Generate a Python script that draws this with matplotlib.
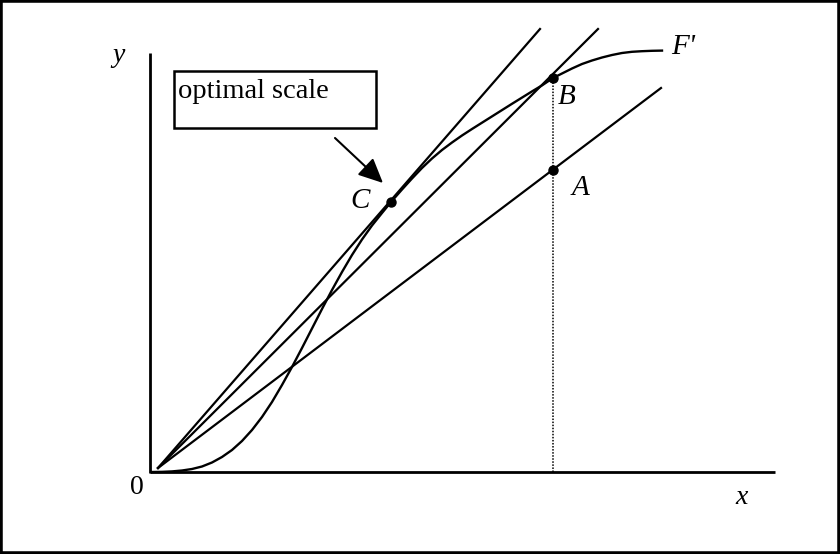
import matplotlib.pyplot as plt
from matplotlib.patches import Rectangle

# Coordinaten in een "pixel-achtige" eenheid: oorsprong = hoek van de assen
curve_x = [0, 10, 20, 30, 40, 50, 60, 70, 80, 90, 100, 110, 120, 130, 140,
           150, 160, 170, 180, 190, 200, 210, 220, 230, 239, 250, 260, 270,
           280, 290, 300, 310, 320, 330, 340, 350, 360, 370, 380, 390, 401,
           410, 420, 430, 440, 450, 460, 470, 480, 490, 500, 510]
curve_y = [0, 0.15, 0.6, 1.5, 3, 5.5, 9.5, 15, 22, 31, 42, 55, 70, 87, 105,
           124, 143.5, 163, 182, 200, 217, 232.5, 246.5, 259, 270, 282.5,
           293.5, 304, 313.5, 322, 329.5, 336.5, 343, 349.3, 355.6, 361.9,
           368.2, 374.4, 380.6, 386.6, 394, 398.5, 403.5, 408, 411.5, 414.5,
           417, 419, 420.2, 420.8, 421.2, 421.4]

# Stralen vanuit de oorsprong (begin- en eindpunt)
ray_start = (6, 4)
ray_end_x = [388, 446, 509]
ray_end_y = [443, 443, 384]

# Gemarkeerde punten
point_names = ["C", "B", "A"]
point_x = [239, 401, 401]
point_y = [270, 394, 302]

serif = "Liberation Serif"


def draw():
    fig = plt.figure(figsize=(8.4, 5.54), dpi=100)
    ax = fig.add_axes([0, 0, 1, 1])
    ax.set_xlim(-152, 688)
    ax.set_ylim(-82, 472)
    ax.axis("off")

    # Assen
    ax.plot([-2, -2], [-1, 419], color="black", lw=2, solid_capstyle="butt")
    ax.plot([-2, 623], [0, 0], color="black", lw=2, solid_capstyle="butt")

    # Stralen
    for ex, ey in zip(ray_end_x, ray_end_y):
        ax.plot([ray_start[0], ex], [ray_start[1], ey], color="black", lw=1.6)

    # Productiecurve F'
    ax.plot(curve_x, curve_y, color="black", lw=1.7)

    # Stippellijn van B naar de x-as
    ax.plot([point_x[1], point_x[1]], [0, point_y[1]], color="black",
            lw=1.1, linestyle=(0, (1, 1)))

    # Punten
    ax.plot(point_x, point_y, "o", color="black", markersize=6.5)

    # Labels bij de punten
    offsets = {"C": (-31, 1), "B": (14, -19), "A": (27, -18)}
    for name, px, py in zip(point_names, point_x, point_y):
        dx, dy = offsets[name]
        ax.text(px + dx, py + dy, name, fontsize=21, family=serif,
                style="italic", ha="center", va="center")

    ax.text(531, 425, "F'", fontsize=21, family=serif, style="italic",
            ha="center", va="center")
    ax.text(-34, 417, "y", fontsize=20, family=serif, style="italic",
            ha="center", va="center")
    ax.text(590, -25, "x", fontsize=20, family=serif, style="italic",
            ha="center", va="center")
    ax.text(-15, -16, "0", fontsize=20, family=serif, ha="center", va="center")

    # Kader met tekst
    ax.add_patch(Rectangle((22, 344), 202, 57, fill=False, lw=1.8,
                           edgecolor="black"))
    ax.text(26, 380, "optimal scale", fontsize=20.5, family=serif,
            ha="left", va="center")

    # Pijl naar C
    ax.annotate("", xy=(231, 289), xytext=(183, 334),
                arrowprops=dict(arrowstyle="-|>,head_length=0.75,head_width=0.35",
                                mutation_scale=20, lw=1.5, color="black",
                                shrinkA=0, shrinkB=0))

    # Rand rond de figuur
    fig.add_artist(Rectangle((0, 0), 1, 1, transform=fig.transFigure,
                             fill=False, lw=4, edgecolor="black"))

    fig.savefig("out.png", dpi=100)


if __name__ == "__main__":
    draw()
